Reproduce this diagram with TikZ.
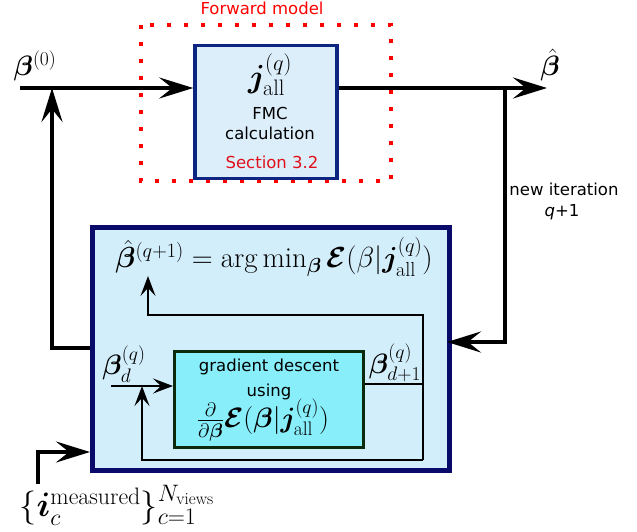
\RequirePackage{fix-cm}
\documentclass[tikz,border=0pt]{standalone}
\usepackage{amsmath,bm}
\usepackage{fontspec}
\setsansfont{DejaVu Sans}
\usetikzlibrary{arrows.meta}
\definecolor{navy}{HTML}{0A0A6A}
\definecolor{fmcnavy}{HTML}{0C2580}
\definecolor{fmcfill}{HTML}{DDEEFB}
\definecolor{bigfill}{HTML}{D3EEFB}
\definecolor{gradfill}{HTML}{88EEFA}
\definecolor{gradline}{HTML}{0B2A0B}
\definecolor{secred}{HTML}{E0101A}
\tikzset{
  x=1pt, y=-1pt,
  sanstxt/.style={font=\sffamily\fontsize{16.5}{19}\selectfont, inner sep=0pt},
  mathtxt/.style={font=\fontsize{28}{32}\selectfont, inner sep=0pt},
  bigmath/.style={font=\fontsize{32}{36}\selectfont, inner sep=0pt},
  bigarrow/.style={line width=3.8pt, -{Stealth[length=34pt,width=21pt,inset=13pt]}},
  bigline/.style={line width=3.8pt},
  smallarrow/.style={line width=2pt, -{Stealth[length=20pt,width=15pt,inset=8pt]}},
  smallline/.style={line width=2pt},
}
\begin{document}
\begin{tikzpicture}
\useasboundingbox (0,0) rectangle (637,531);
% forward model frame
\draw[red, line width=4pt, dash pattern=on 4pt off 13pt] (141,25) rectangle (391,181);
\node[sanstxt, red] (fwd) at (262,8) {Forward model};
% FMC box
\node[draw=fmcnavy, fill=fmcfill, line width=3.5pt, minimum width=142, minimum height=133, inner sep=0pt] (fmc) at (266,112) {};
\node[bigmath] (jall) at (270,75) {$\bm{j}^{(q)}_{\mathrm{all}}$};
\node[sanstxt] (fmct) at (270,113) {FMC};
\node[sanstxt] (calc) at (270,133) {calculation};
\node[sanstxt, text=secred] (sec) at (272,162) {Section 3.2};
% big box
\node[draw=navy, fill=bigfill, line width=5pt, minimum width=357, minimum height=243, inner sep=0pt] (big) at (271,349) {};
\node[font=\fontsize{29}{33}\selectfont, inner sep=0pt] (argmin) at (274,257) {$\hat{\bm\beta}^{(q+1)} = \arg\min\nolimits_{\bm\beta} \bm{\mathcal{E}}(\beta|\bm{j}^{(q)}_{\mathrm{all}})$};
% gradient box
\node[draw=gradline, fill=gradfill, line width=3pt, minimum width=189, minimum height=96, inner sep=0pt] (grad) at (269,399.5) {};
\node[sanstxt] (gd1) at (269,367) {gradient descent};
\node[sanstxt] (gd2) at (269,392) {using};
\node[mathtxt] (gdf) at (263,420) {$\frac{\partial}{\partial\bm\beta}\bm{\mathcal{E}}(\bm\beta|\bm{j}^{(q)}_{\mathrm{all}})$};
\node[mathtxt] (bd) at (124,364) {$\bm\beta^{(q)}_{d}$};
\node[mathtxt] (bd1) at (395,363) {$\bm\beta^{(q)}_{d+1}$};
% labels outside
\node[mathtxt] (b0) at (35,66) {$\bm\beta^{(0)}$};
\node[mathtxt] (bhat) at (550,65) {$\hat{\bm\beta}$};
\node[sanstxt] (newit) at (564,189) {new iteration};
\node[sanstxt] (qp1) at (562,212) {\textit{q}+1};
\node[font=\fontsize{34}{38}\selectfont, inner sep=0pt] (meas) at (117,505) {$\{\bm{i}^{\mathrm{measured}}_{c}\}^{N_{\mathrm{views}}}_{c=1}$};
% coordinates
\coordinate (in) at (20,88);
\coordinate (out) at (547,88);
\coordinate (split) at (505,88);
\coordinate (ret) at (505,342);
\coordinate (retend) at (447,342);
\coordinate (fb) at (52,348);
\coordinate (mstart) at (38,484);
\coordinate (mcorner) at (38,452);
\coordinate (gin) at (111,386);
\coordinate (loopr) at (423,384);
\coordinate (loopb) at (423,460);
\coordinate (loopl) at (142,460);
\coordinate (loopt) at (423,315);
\coordinate (looptl) at (148,315);
\coordinate (argtip) at (148,276);
% main connectors
\draw[bigarrow] (in) -- (in -| fmc.west);
\draw[bigline] (fmc.east |- in) -- (split);
\draw[bigarrow] (split) -- (out);
\draw[bigarrow] (split) -- (ret) -- (retend);
\draw[bigarrow] (fb -| big.west) -- (fb) -- (fb |- in);
\draw[bigarrow] (mstart) -- (mcorner) -- (mcorner -| big.west);
% inner connectors
\draw[smallarrow] (gin) -- (gin -| grad.west);
\draw[smallline] (loopr -| grad.east) -- (loopr) -- (loopb);
\draw[smallarrow] (loopb) -- (loopl) -- (loopl |- gin);
\draw[smallarrow] (loopr) -- (loopt) -- (looptl) -- (argtip);
\end{tikzpicture}
\end{document}
